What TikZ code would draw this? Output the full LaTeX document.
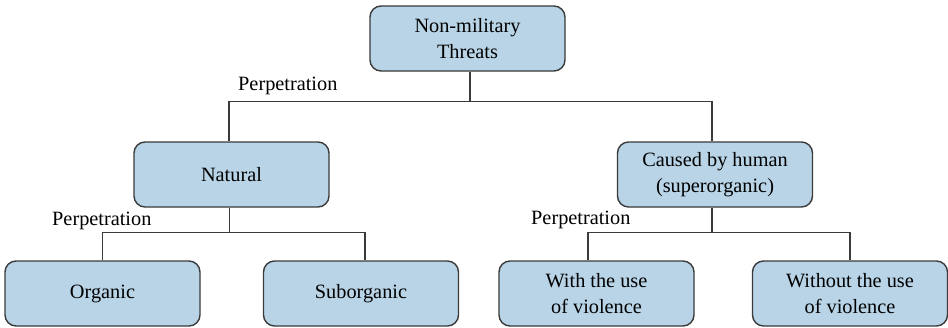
\documentclass[tikz,border=0pt]{standalone}
\usepackage{fontspec}
\setmainfont{Liberation Serif}
\definecolor{boxfill}{HTML}{B8D4E6}
\definecolor{boxline}{HTML}{3A3A3A}
\begin{document}
\begin{tikzpicture}[x=1pt,y=-1pt,
  box/.style={draw=boxline, fill=boxfill, line width=1.4pt, rounded corners=11pt,
    minimum width=195pt, minimum height=65pt, inner sep=0pt, align=center,
    font=\fontsize{20.3pt}{25.5pt}\selectfont},
  conn/.style={draw=boxline, line width=1.3pt},
  lbl/.style={anchor=base west, inner sep=0pt, font=\fontsize{20.3pt}{24pt}\selectfont}]
\useasboundingbox (0,0) rectangle (948,327);
\node[box] (top) at (467.5,38.5) {Non-military\\Threats};
\node[box] (nat) at (231.5,174.5) {Natural};
\node[box] (cau) at (715,174.5) {Caused by human\\(superorganic)};
\node[box] (org) at (102.5,293.5) {Organic};
\node[box] (sub) at (361,293.5) {Suborganic};
\node[box] (with) at (596.5,293.5) {With the use\\of violence};
\node[box] (wo) at (850,293.5) {Without the use\\of violence};
\draw[conn] ([xshift=2.5pt]top.south) -- ++(0,30) coordinate (j1);
\draw[conn] ([xshift=-2.5pt]nat.north) |- (j1) -| ([xshift=-3pt]cau.north);
\draw[conn] ([xshift=-2pt]nat.south) -- ++(0,25) coordinate (j2);
\draw[conn] (org.north) |- (j2) -| ([xshift=4pt]sub.north);
\draw[conn] ([xshift=-3pt]cau.south) -- ++(0,25) coordinate (j3);
\draw[conn] ([xshift=-8.5pt]with.north) |- (j3) -| (wo.north);
\node[lbl] (p1) at (238,90) {Perpetration};
\node[lbl] (p2) at (52,225) {Perpetration};
\node[lbl] (p3) at (531,224) {Perpetration};
\end{tikzpicture}
\end{document}
